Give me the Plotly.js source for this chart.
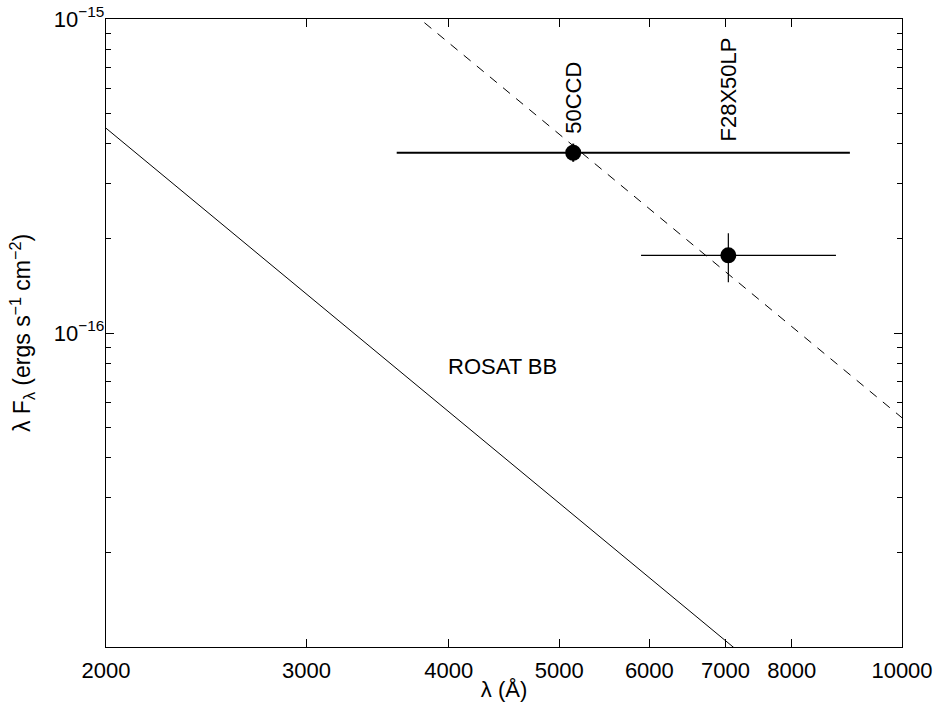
<!DOCTYPE html>
<html>
<head>
<meta charset="utf-8">
<script src="https://cdn.plot.ly/plotly-3.0.1.min.js"></script>
<style>html,body{margin:0;padding:0;background:#fff;}#chart{width:937px;height:704px;}</style>
</head>
<body>
<div id="chart"></div>
<script>
// ROSAT blackbody (Rayleigh-Jeans tail)
const bbX = [2000, 10000];
const bbY = [4.49e-16, 3.59e-18];
// dashed power-law through the optical points
const fitX = [3000, 10000];
const fitY = [1.99e-15, 5.37e-17];
// photometry
const filters = ['50CCD', 'F28X50LP'];
const ptX = [5144, 7039];
const ptY = [3.75e-16, 1.768e-16];
const xLo = [3600, 5900];
const xHi = [9000, 8750];
const yLo = [3.51e-16, 1.45e-16];
const yHi = [4.01e-16, 2.077e-16];
const xTicks = [2000, 3000, 4000, 5000, 6000, 7000, 8000, 10000];
const yTicks = [1e-16, 1e-15];
const yTickText = ['10<sup>\u221216</sup>', '10<sup>\u221215</sup>'];
const yMinor = [];
[1e-17, 1e-16].forEach(d => { for (let k = 2; k <= 9; k++) yMinor.push(k * d); });
const bbLabel = 'ROSAT BB';
const bbLabelX = 4456, bbLabelY = 7.8e-17;
const filterLabelY = [5.62e-16, 5.98e-16];

const errW = [2, 1.2];
const traces = [
  {x: bbX, y: bbY, mode: 'lines', line: {color: '#000', width: 1}, hoverinfo: 'skip'},
  {x: fitX, y: fitY, mode: 'lines', line: {color: '#000', width: 1, dash: '9px,8px'}, hoverinfo: 'skip'}
];
filters.forEach((f, i) => {
  traces.push({
    x: [ptX[i]], y: [ptY[i]], mode: 'markers', name: f,
    marker: {color: '#000', size: 16},
    error_x: {type: 'data', symmetric: false, array: [xHi[i] - ptX[i]], arrayminus: [ptX[i] - xLo[i]], color: '#000', thickness: errW[i], width: 0},
    error_y: {type: 'data', symmetric: false, array: [yHi[i] - ptY[i]], arrayminus: [ptY[i] - yLo[i]], color: '#000', thickness: errW[i], width: 0}
  });
});

const annotations = filters.map((f, i) => ({
  x: Math.log10(ptX[i]), y: Math.log10(filterLabelY[i]), xref: 'x', yref: 'y',
  text: f, showarrow: false, textangle: -90, font: {size: 22, color: '#000'}
}));
annotations.push({x: Math.log10(bbLabelX), y: Math.log10(bbLabelY), xref: 'x', yref: 'y',
  text: bbLabel, showarrow: false, font: {size: 22, color: '#000'}});

const layout = {
  width: 937, height: 704,
  margin: {l: 106, r: 35, t: 19, b: 57},
  paper_bgcolor: '#fff', plot_bgcolor: '#fff',
  showlegend: false,
  font: {family: 'Liberation Sans, Arial, sans-serif', size: 22, color: '#000'},
  xaxis: {
    type: 'log', range: [Math.log10(2000), 4],
    tickmode: 'array', tickvals: xTicks, ticktext: xTicks.map(String),
    ticks: 'inside', ticklen: 8, tickwidth: 1, tickcolor: '#000',
    tickfont: {size: 22}, ticklabelstandoff: 3,
    showline: true, linecolor: '#000', linewidth: 1.3, mirror: 'allticks',
    showgrid: false, zeroline: false,
    title: {text: '\u03bb (\u00c5)', font: {size: 22}, standoff: 0},
    automargin: false
  },
  yaxis: {
    type: 'log', range: [-17, -15],
    tickmode: 'array', tickvals: yTicks, ticktext: yTickText,
    ticks: 'inside', ticklen: 8, tickwidth: 1, tickcolor: '#000',
    tickfont: {size: 22}, ticklabelstandoff: -4,
    minor: {tickmode: 'array', tickvals: yMinor, ticks: 'inside', ticklen: 5, tickcolor: '#000', showgrid: false},
    showline: true, linecolor: '#000', linewidth: 1.3, mirror: 'allticks',
    showgrid: false, zeroline: false,
    title: {text: '\u03bb F<sub>\u03bb</sub> (ergs s<sup>\u22121</sup> cm<sup>\u22122</sup>)', font: {size: 23}, standoff: 16},
    automargin: false
  },
  annotations: annotations
};
Plotly.newPlot('chart', traces, layout, {displayModeBar: false, staticPlot: true});
</script>
</body>
</html>
